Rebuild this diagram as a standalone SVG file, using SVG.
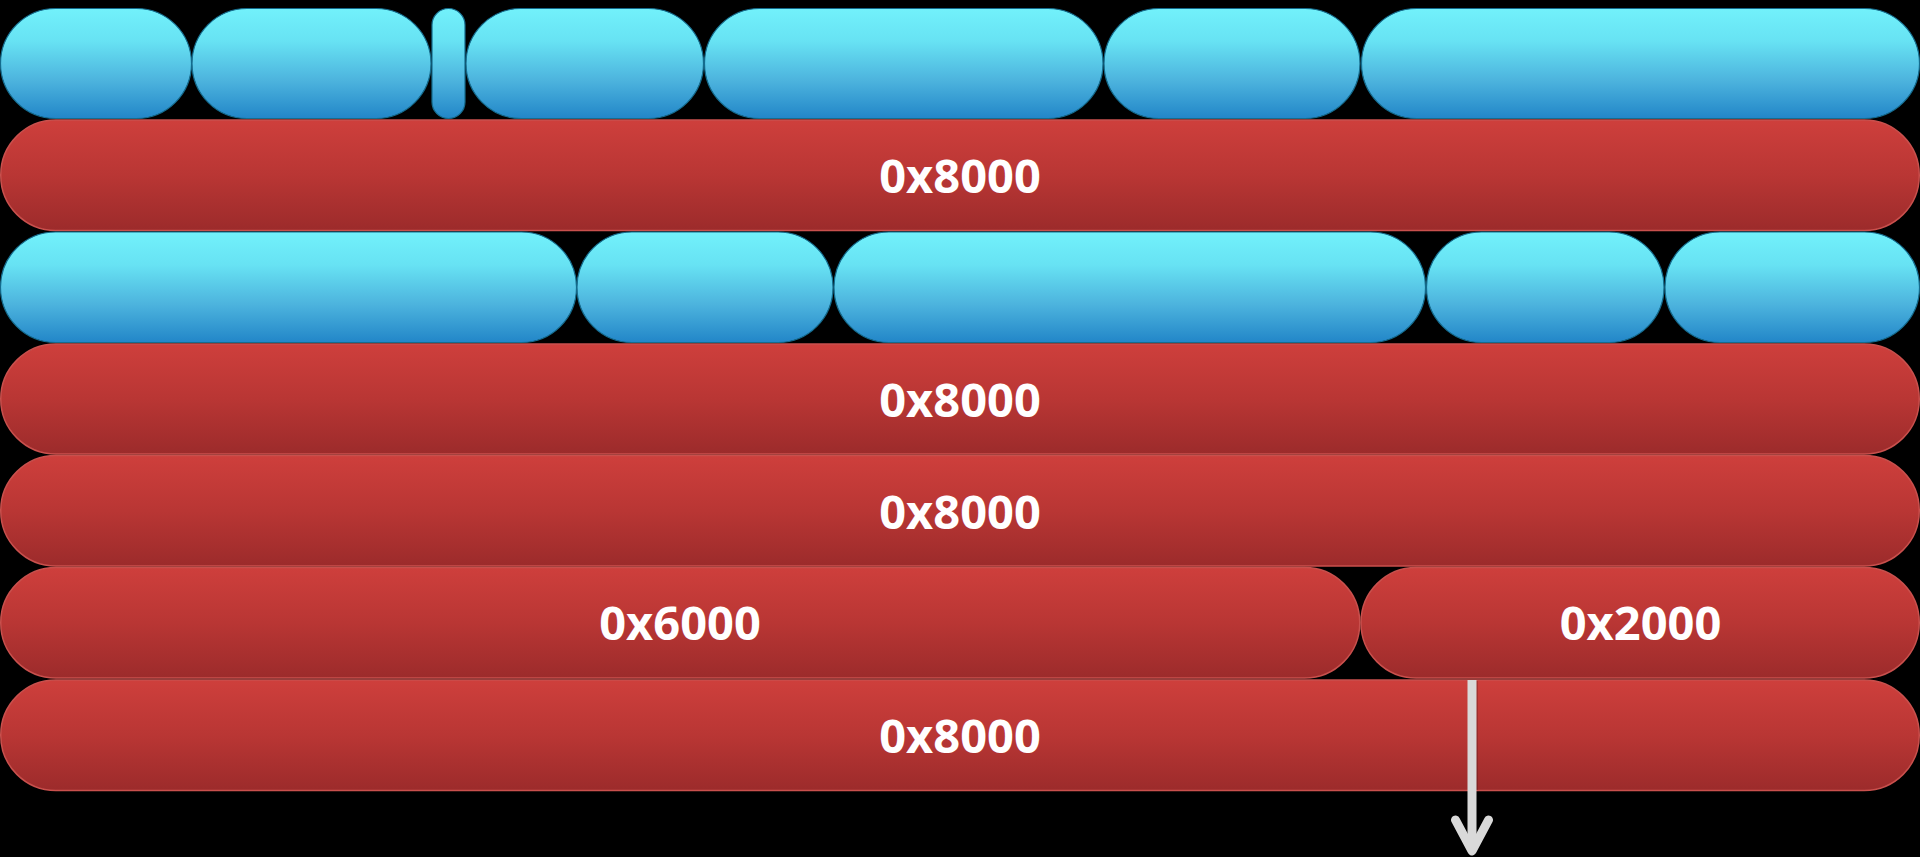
<svg xmlns="http://www.w3.org/2000/svg" width="1920" height="857" viewBox="0 0 1920 857">
  <defs>
    <linearGradient id="gBlue" x1="0" y1="0" x2="0" y2="1">
      <stop offset="0" stop-color="#72F1FB"/>
      <stop offset="0.3" stop-color="#67E2F3"/>
      <stop offset="0.65" stop-color="#4DB4DE"/>
      <stop offset="1" stop-color="#2286C8"/>
    </linearGradient>
    <linearGradient id="gRed" x1="0" y1="0" x2="0" y2="1">
      <stop offset="0" stop-color="#CE3F3C"/>
      <stop offset="0.5" stop-color="#B93634"/>
      <stop offset="1" stop-color="#9C2B2B"/>
    </linearGradient>
    <marker id="openArrow" markerUnits="userSpaceOnUse" markerWidth="50" markerHeight="50" viewBox="-40 -25 50 50" refX="0" refY="0" orient="auto">
      <path d="M-31,-16.5 L0,0 L-31,16.5" fill="none" stroke="#D9D9D9" stroke-width="9" stroke-linecap="round" stroke-linejoin="round"/>
    </marker>
    <style>
      .blue { fill: url(#gBlue); stroke: #156C8E; stroke-width: 1.2; }
      .red { fill: url(#gRed); stroke: #C9504D; stroke-width: 1.5; }
      .lbl { font-family: "Open Sans", "Liberation Sans", sans-serif; font-weight: 700; font-size: 47px; fill: #FFFFFF; text-anchor: middle; }
      .conn { stroke: #D9D9D9; stroke-width: 9; fill: none; }
    </style>
  </defs>
  <rect x="0" y="0" width="1920" height="857" fill="#000000"/>

  <g id="row1">
    <g id="r1a"><rect class="blue" x="0.5" y="8.5" width="191" height="110" rx="55" ry="55"/></g>
    <g id="r1b"><rect class="blue" x="192" y="8.5" width="239" height="110" rx="55" ry="55"/></g>
    <g id="r1c"><rect class="blue" x="432" y="8.5" width="33" height="110" rx="16.5" ry="16.5"/></g>
    <g id="r1d"><rect class="blue" x="466" y="8.5" width="237.5" height="110" rx="55" ry="55"/></g>
    <g id="r1e"><rect class="blue" x="704.5" y="8.5" width="398.5" height="110" rx="55" ry="55"/></g>
    <g id="r1f"><rect class="blue" x="1104" y="8.5" width="256" height="110" rx="55" ry="55"/></g>
    <g id="r1g"><rect class="blue" x="1361.5" y="8.5" width="558" height="110" rx="55" ry="55"/></g>
  </g>

  <g id="row2">
    <rect class="red" x="0.75" y="120" width="1918.5" height="110.5" rx="55" ry="55"/>
    <text class="lbl" x="960" y="193">0x8000</text>
  </g>

  <g id="row3">
    <g id="r3a"><rect class="blue" x="0.5" y="232" width="576" height="110.5" rx="55" ry="55"/></g>
    <g id="r3b"><rect class="blue" x="577" y="232" width="256" height="110.5" rx="55" ry="55"/></g>
    <g id="r3c"><rect class="blue" x="834" y="232" width="591.5" height="110.5" rx="55" ry="55"/></g>
    <g id="r3d"><rect class="blue" x="1426.5" y="232" width="237.5" height="110.5" rx="55" ry="55"/></g>
    <g id="r3e"><rect class="blue" x="1665" y="232" width="254.5" height="110.5" rx="55" ry="55"/></g>
  </g>

  <g id="row4">
    <rect class="red" x="0.75" y="344" width="1918.5" height="110" rx="55" ry="55"/>
    <text class="lbl" x="960" y="417">0x8000</text>
  </g>

  <g id="row5">
    <rect class="red" x="0.75" y="455.5" width="1918.5" height="110.5" rx="55" ry="55"/>
    <text class="lbl" x="960" y="529">0x8000</text>
  </g>

  <g id="row6a">
    <rect class="red" x="0.75" y="567.5" width="1359" height="110.5" rx="55" ry="55"/>
    <text class="lbl" x="680" y="640">0x6000</text>
  </g>
  <g id="row6b">
    <rect class="red" x="1361" y="567.5" width="558.25" height="110.5" rx="55" ry="55"/>
    <text class="lbl" x="1640.5" y="640">0x2000</text>
  </g>

  <g id="row7">
    <rect class="red" x="0.75" y="680" width="1918.5" height="110.5" rx="55" ry="55"/>
    <text class="lbl" x="960" y="753">0x8000</text>
  </g>

  <g id="connectors">
    <line x1="1475" y1="681" x2="1475" y2="790" stroke="#000000" stroke-opacity="0.18" stroke-width="6"/>
    <line class="conn" x1="1472" y1="680" x2="1472" y2="851" marker-end="url(#openArrow)"/>
  </g>
</svg>
